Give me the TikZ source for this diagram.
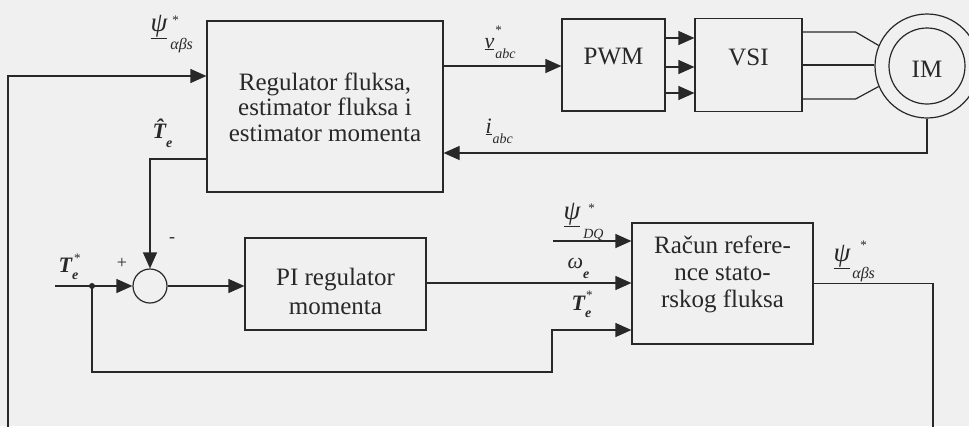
\documentclass[tikz,border=0pt]{standalone}
\usepackage{fontspec}
\setmainfont{Liberation Serif}
\usetikzlibrary{arrows.meta}
\definecolor{bgc}{RGB}{240,240,241}
\definecolor{lc}{RGB}{40,40,40}
% #1 main, #2 sub, #3 sub size, #4 sub drop, #5 star dx, #6 star raise
\newcommand{\vs}[6]{#1\rlap{\hspace{#5}\raisebox{#6}{\fontsize{13}{13}\selectfont\upshape\mdseries *}}\raisebox{-#4}{\fontsize{#3}{#3}\selectfont #2}}
\newcommand{\ns}[4]{#1\raisebox{-#4}{\fontsize{#3}{#3}\selectfont #2}}
\newcommand{\psis}{{\fontsize{27}{27}\selectfont\underline{ψ}}}
\begin{document}
\begin{tikzpicture}[x=1pt,y=-1pt,line width=1.2pt,
  box/.style={draw=lc,line width=1.2pt,rectangle,inner sep=0pt},
  txt/.style={text=lc,align=center,font=\fontsize{25}{26}\selectfont,inner sep=0pt},
  arr/.style={draw=lc,-{Triangle[length=16pt,width=14pt]}},
  wire/.style={draw=lc},
  sgn/.style={text=lc,inner sep=0pt,font=\fontsize{18}{18}\selectfont},
  sym/.style={text=lc,inner sep=0pt,anchor=base west,font=\fontsize{22}{22}\selectfont\itshape}]
\useasboundingbox (0,0) rectangle (969,426);
\fill[bgc] (0,0) rectangle (969,426);

% blocks
\node[box,minimum width=236pt,minimum height=171pt] (main) at (325,106.5) {};
\node[txt,font=\fontsize{25}{25.5}\selectfont] (mainT) at (325,107) {Regulator fluksa,\\estimator fluksa i\\estimator momenta};
\node[box,minimum width=103pt,minimum height=92pt] (pwm) at (613.5,65) {};
\node[txt] (pwmT) at (613.5,57) {PWM};
\node[box,minimum width=107pt,minimum height=93pt] (vsi) at (748.5,65) {};
\node[txt] (vsiT) at (748.5,57) {VSI};
\node[circle,draw=lc,minimum size=104pt,inner sep=0pt] (im) at (927,66) {};
\node[circle,draw=lc,minimum size=76pt,inner sep=0pt] (imi) at (927,66) {};
\node[txt] (imT) at (927,69) {IM};
\node[circle,draw=lc,minimum size=34pt,inner sep=0pt] (sum) at (150,286) {};
\node[box,minimum width=181pt,minimum height=92pt] (pi) at (335.5,284) {};
\node[txt,font=\fontsize{25}{29}\selectfont] (piT) at (335.5,291) {PI regulator\\momenta};
\node[box,minimum width=181pt,minimum height=121pt] (rac) at (722.5,283.5) {};
\node[txt,font=\fontsize{25}{27}\selectfont] (racT) at (722.5,274) {Račun refere-\\nce stato-\\rskog fluksa};

% helper coordinates
\coordinate (yPsi) at (0,76);
\coordinate (yV) at (0,66);
\coordinate (yI) at (0,153);
\coordinate (yTh) at (0,159);
\coordinate (tin) at (55,286);
\coordinate (yW) at (0,283);
\coordinate (dqin) at (553,241);
\coordinate (yTs) at (0,330);
\node[circle,fill=lc,minimum size=6pt,inner sep=0pt] (dot) at (92,286) {};

% connectors
\draw[arr] (rac.east) -| (933,440) -| (8,76) -- (main.west |- yPsi);
\draw[arr] (main.east |- yV) -- (pwm.west |- yV);
\foreach \s in {27,-2,-28} \draw[arr] ([yshift=\s pt]pwm.east) -- ([yshift=\s pt]vsi.west);
\draw[wire] ([yshift=33pt]vsi.east) -- ++(53,0) -- (im.157);
\draw[wire] (vsi.east) -- (vsi.east -| im.west);
\draw[wire] ([yshift=-34pt]vsi.east) -- ++(53,0) -- (im.203);
\draw[arr] (im.south) |- (main.east |- yI);
\draw[arr] (main.west |- yTh) -| (sum.north);
\draw[arr] (tin) -- (sum.west);
\draw[arr] (dot.center) |- (552,372) |- (rac.west |- yTs);
\draw[arr] (sum.east) -- (sum.east -| pi.west);
\draw[arr] (pi.east |- yW) -- (rac.west |- yW);
\draw[arr] (dqin) -- (rac.west |- dqin);

% signs
\node[sgn] (plus) at (122,263) {+};
\node[sgn] (minus) at (172,240) {-};

% symbol labels
\node[sym] (lpsi1) at (150,31) {\vs{\psis\hspace{3pt}}{αβs}{16}{18.5pt}{2pt}{7pt}};
\node[sym] (lth) at (152,138) {\bfseries\ns{T̂}{e}{14}{9pt}};
\node[sym] (lts1) at (58,272) {\bfseries\vs{T}{e}{14}{7pt}{2pt}{10pt}};
\node[sym] (lv) at (484,48) {\vs{\underline{v}\hspace{1pt}}{abc}{14}{10pt}{0pt}{14pt}};
\node[sym] (li) at (485,133) {\ns{\underline{i}\hspace{1pt}}{abc}{14}{10pt}};
\node[sym] (ldq) at (563,219) {\vs{\psis\hspace{3pt}}{DQ}{14}{19pt}{5pt}{7pt}};
\node[sym] (lw) at (567,268) {\ns{ω}{\bfseries e}{14}{10pt}};
\node[sym] (lts2) at (571,310) {\bfseries\vs{T}{e}{14}{7pt}{1pt}{11pt}};
\node[sym] (lpsi2) at (833,261) {\vs{\psis\hspace{2pt}}{αβs}{16}{17pt}{8pt}{12pt}};
\end{tikzpicture}
\end{document}
